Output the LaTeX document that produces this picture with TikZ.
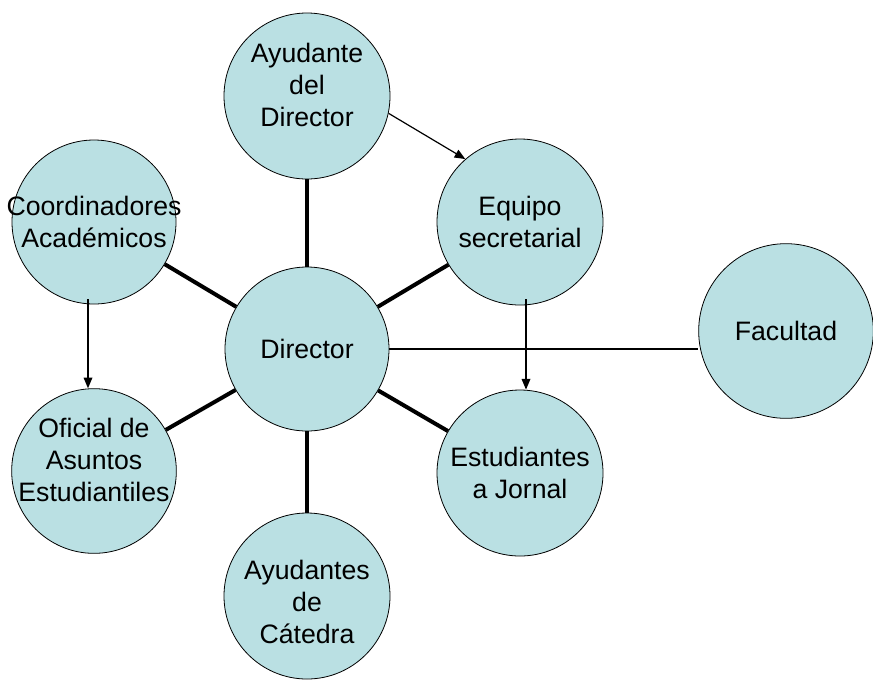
\documentclass[tikz,border=0pt]{standalone}
\usepackage{fontspec}
\setmainfont{Liberation Sans}
\usepackage{tikz}
\usetikzlibrary{arrows.meta}
\definecolor{paleteal}{RGB}{186, 224, 227}
\tikzset{
    unit/.style={circle, draw=black, fill=paleteal, line width=0.6pt,
        inner sep=0pt, minimum size=#1},
    tag/.style={align=center, font=\fontsize{20}{24}\selectfont},
    link/.style={line width=3pt},
    plain/.style={line width=0.9pt},
    flow/.style={line width=0.9pt, -{Triangle[length=8pt, width=6.5pt]}}
}

\begin{document}
\begin{tikzpicture}[x=0.75pt, y=-0.75pt]

    \useasboundingbox (0, 0) rectangle (873, 679);

    \node[unit=123pt] (dir) at (307, 349) {};
    \node[unit=124.5pt] (ayu) at (307, 96) {};
    \node[unit=124.5pt] (equ) at (520, 222) {};
    \node[unit=123pt] (coo) at (94, 222) {};
    \node[unit=123.5pt] (ofi) at (94, 471) {};
    \node[unit=124.5pt] (est) at (520, 473) {};
    \node[unit=124.5pt] (cat) at (307, 596) {};
    \node[unit=131pt] (fac) at (786, 331) {};

    \node[tag] (dirtxt) at (dir) {Director};
    \node[tag] (ayutxt) at ([yshift=8pt]ayu.center) {Ayudante\\del\\Director};
    \node[tag] (equtxt) at (equ) {Equipo\\secretarial};
    \node[tag] (cootxt) at (coo) {Coordinadores\\Académicos};
    \node[tag] (ofitxt) at ([yshift=8.5pt]ofi.center) {Oficial de\\Asuntos\\Estudiantiles};
    \node[tag] (esttxt) at (est) {Estudiantes\\a Jornal};
    \node[tag] (cattxt) at ([yshift=-4.5pt]cat.center) {Ayudantes\\de\\Cátedra};
    \node[tag] (factxt) at (fac) {Facultad};

    \foreach \far in {ayu, equ, coo, ofi, est, cat} {%
        \draw[link] (dir) -- (\far);
    };

    \draw[plain] (dir.east) -- (dir.east -| fac.west);

    \draw[flow] (ayu.-12) -- (equ.131);
    \draw[flow] ([shift={(-6, -5)}]coo.south) -- ([xshift=-4.5pt]ofi.north);
    \draw[flow] ([shift={(6, -6)}]equ.south) -- ([xshift=4.5pt]est.north);

\end{tikzpicture}
\end{document}
